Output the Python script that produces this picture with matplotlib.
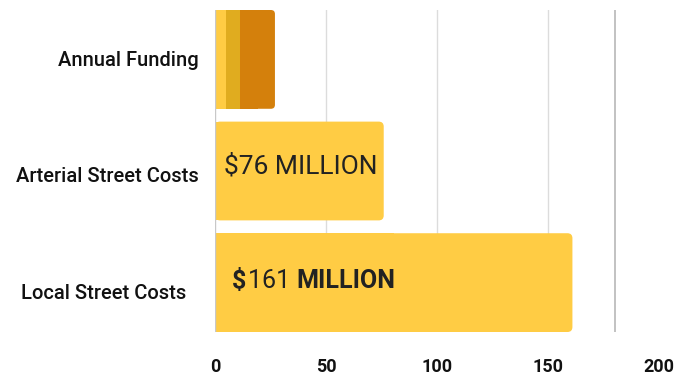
import numpy as np
import matplotlib
matplotlib.use("Agg")
import matplotlib.pyplot as plt
from matplotlib.patches import FancyBboxPatch, Rectangle
from matplotlib.transforms import offset_copy

matplotlib.rcParams['font.family'] = ['Roboto', 'DejaVu Sans']

categories = ["Annual Funding", "Arterial Street Costs", "Local Street Costs"]
cost_values = [0, 76, 161]
funding_parts = [5, 6.3, 15.7]
funding_colors = ['#FFCC44', '#E0AC1F', '#D4800C']
xticks = [0, 50, 100, 150, 200]
limit_line = 180

bar_color = '#FFCC44'
bar_h = 0.885

fig = plt.figure(figsize=(6.76, 3.79), dpi=100)
W, H = 676, 379
ax = fig.add_axes([215 / W, 1 - 332 / H, (659 - 215) / W, (332 - 10) / H])
ax.set_xlim(0, 200)
ax.set_ylim(2 + bar_h / 2, -bar_h / 2)

# px -> data scaling for rounded corners
px_x = 200 / (659 - 215)
px_y = (2 + bar_h) / (332 - 10)
aspect = px_y / px_x


def rounded_bar(x0, width, y, color, r_px=5, z=3):
    r = r_px * px_x
    ax.add_patch(FancyBboxPatch((x0, y - bar_h / 2), width, bar_h,
                                boxstyle=f"round,pad=0,rounding_size={r}",
                                mutation_aspect=aspect, facecolor=color,
                                edgecolor='none', zorder=z))
    # square off the left side
    ax.add_patch(Rectangle((x0, y - bar_h / 2), min(width / 2, width - r), bar_h,
                           facecolor=color, edgecolor='none', zorder=z))


# cost bars
for i, v in enumerate(cost_values):
    if v > 0:
        bars = ax.barh(i, v, height=bar_h, color=bar_color, zorder=3)
        for b in bars:
            b.set_visible(False)
            rounded_bar(b.get_x(), b.get_width(), i, bar_color)

# stacked funding bar
left = 0
for j, (p, c) in enumerate(zip(funding_parts, funding_colors)):
    if j == len(funding_parts) - 1:
        rounded_bar(left, p, 0, c, r_px=4, z=3 + j)
    else:
        ax.barh(0, p, left=left, height=bar_h, color=c, zorder=3 + j)
    left += p

# grid
for t in xticks[1:-1]:
    ax.axvline(t, color='#dcdcdc', lw=1, zorder=1)
ax.axvline(0, color='#c8c8c8', lw=1, zorder=5)
ax.axvline(limit_line, color='#b8b8b8', lw=1.2, zorder=1)

for s in ax.spines.values():
    s.set_visible(False)

ax.set_xticks(xticks)
ax.set_xticklabels([str(t) for t in xticks], fontsize=13, fontweight='bold',
                   color='#111111')
ax.tick_params(axis='x', length=0, pad=19)
ax.set_yticks([])

# category labels, placed in pixel offsets from the axis
label_dx = [-16, -16, -29]
label_dy = [-1, -6, -11]
for i, name in enumerate(categories):
    ax.text(0, i, name, fontsize=14.5, fontweight='medium', color='#111111',
            ha='right', va='center', clip_on=False,
            transform=offset_copy(ax.transData, fig=fig, x=label_dx[i],
                                  y=label_dy[i], units='dots'))

# value labels
ax.text(4, 1, "$76 MILLION", fontsize=19, color='#222222', va='center',
        ha='left', zorder=6,
        transform=offset_copy(ax.transData, fig=fig, y=5, units='dots'))

fig.canvas.draw()
renderer = fig.canvas.get_renderer()
pieces = [("$", 'bold'), ("161 ", 'normal'), ("MILLION", 'bold')]
x = 7.5
offset = 0
for txt, wt in pieces:
    t = ax.text(x, 2, txt, fontsize=18, color='#222222', va='center',
                ha='left', fontweight=wt, zorder=6,
                transform=offset_copy(ax.transData, fig=fig, x=offset, y=2,
                                      units='dots'))
    bb = t.get_window_extent(renderer)
    offset += bb.width + (2 if txt == "$" else 0)

fig.savefig("out.png", dpi=100)
